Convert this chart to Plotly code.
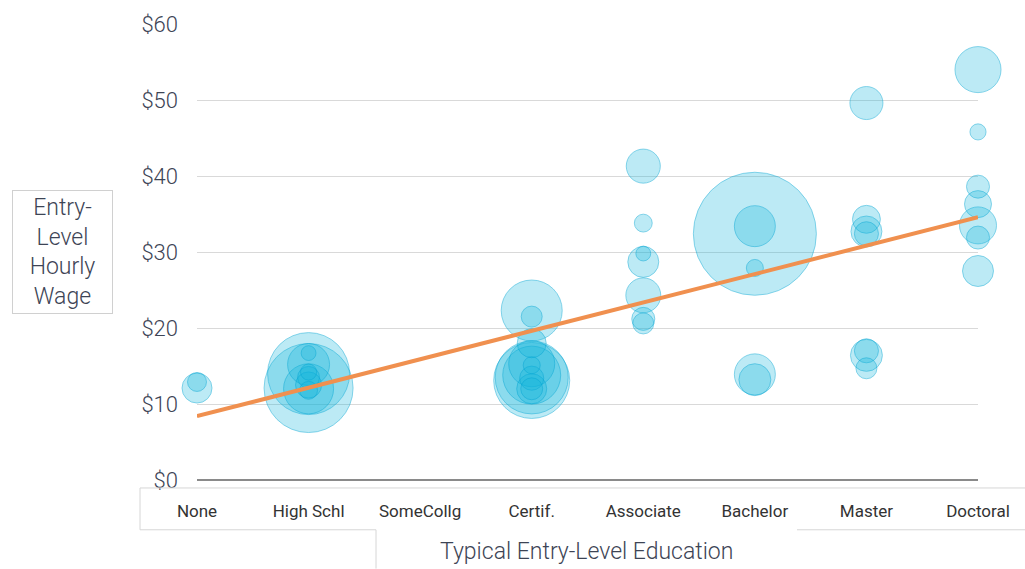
import plotly.graph_objects as go

categories = ["None", "High Schl", "SomeCollg", "Certif.", "Associate", "Bachelor", "Master", "Doctoral"]

education = (["None"] * 2 + ["High Schl"] * 9 + ["Certif."] * 11 + ["Associate"] * 7 +
             ["Bachelor"] * 5 + ["Master"] * 7 + ["Doctoral"] * 7)
wage = [12.1, 12.9,
        12.1, 14.0, 12.0, 15.2, 16.7, 13.5, 12.5, 11.8, 14.2,
        22.3, 21.5, 13.1, 13.5, 13.8, 15.3, 18.0, 15.1, 13.4, 12.0, 12.0,
        41.3, 33.8, 28.7, 29.8, 24.3, 21.2, 20.6,
        32.4, 33.4, 27.9, 13.9, 13.2,
        49.6, 34.3, 32.7, 32.4, 16.4, 17.0, 14.7,
        54.0, 45.8, 38.6, 36.3, 33.5, 31.9, 27.5]
jobs = [90, 36,
        792, 672, 250, 176, 22, 48, 68, 32, 26,
        372, 44, 578, 533, 336, 212, 84, 29, 58, 90, 48,
        116, 32, 96, 22, 122, 53, 44,
        1513, 168, 29, 168, 102,
        109, 78, 96, 58, 102, 58, 44,
        212, 26, 53, 73, 137, 53, 96]

trend_intercept = 8.4
trend_slope = 3.74

y_ticks = [0, 10, 20, 30, 40, 50, 60]
y_ticktext = ["$0", "$10", "$20", "$30", "$40", "$50", "$60"]

# layout geometry (pixels)
W, H = 1025, 569
L, R, T, B = 197, 978, 22, 480


def px(x):
    return (x - L) / (R - L)


def py(y):
    return (B - y) / (B - T)


order = sorted(range(len(wage)), key=lambda i: -jobs[i])

fig = go.Figure()
fig.add_trace(go.Scatter(
    x=[education[i] for i in order],
    y=[wage[i] for i in order],
    mode="markers",
    marker=dict(size=[jobs[i] for i in order], sizemode="area", sizeref=0.2,
                color="rgba(20,182,220,0.40)",
                line=dict(color="rgba(0,165,210,0.65)", width=1)),
    cliponaxis=False,
    hoverinfo="skip",
))
fig.add_trace(go.Scatter(
    x=[categories[0], categories[-1]],
    y=[trend_intercept, trend_intercept + trend_slope * (len(categories) - 1)],
    mode="lines",
    line=dict(color="#f0904f", width=4),
    cliponaxis=False,
    hoverinfo="skip",
))

txt = "#3d4455"
line_c = "#d6d6d6"
shapes = []


def seg(x0, y0, x1, y1):
    shapes.append(dict(type="line", xref="paper", yref="paper",
                       x0=px(x0), y0=py(y0), x1=px(x1), y1=py(y1),
                       line=dict(color=line_c, width=1)))


# tick label box
seg(140, 488, 1025, 488)
seg(140, 488, 140, 530)
seg(140, 530, 376, 530)
seg(376, 530, 376, 569)
seg(797, 530, 1025, 530)

fig.update_layout(
    width=W, height=H,
    margin=dict(l=L, r=W - R, t=T, b=H - B),
    paper_bgcolor="white", plot_bgcolor="white",
    showlegend=False,
    font=dict(family="Roboto", color=txt, weight=300),
    xaxis=dict(type="category", categoryorder="array", categoryarray=categories,
               range=[0, 7], showgrid=False, zeroline=False, showline=False,
               ticks="", tickfont=dict(size=17, color="#333333", weight=400),
               ticklabelstandoff=19),
    yaxis=dict(range=[0, 60], tickvals=y_ticks, ticktext=y_ticktext,
               showgrid=True, gridcolor="#d9d9d9", gridwidth=1,
               zeroline=True, zerolinecolor="#8a8a8a", zerolinewidth=1.5,
               showline=False, ticks="", tickfont=dict(size=22, color=txt, weight=300),
               ticklabelstandoff=18),
    shapes=shapes,
    annotations=[
        dict(text="Entry-<br>Level<br>Hourly<br>Wage", xref="paper", yref="paper",
             x=px(62), y=py(251), xanchor="center", yanchor="middle",
             showarrow=False, font=dict(size=23, color=txt, weight=300),
             bordercolor="#d0d0d0", borderwidth=1, width=97, height=120,
             borderpad=1, align="center"),
        dict(text="Typical Entry-Level Education", xref="paper", yref="paper",
             x=px(586), y=py(552), xanchor="center", yanchor="middle",
             showarrow=False, font=dict(size=23, color=txt, weight=300)),
    ],
)

fig.write_html("out.html", config={"displayModeBar": False})
